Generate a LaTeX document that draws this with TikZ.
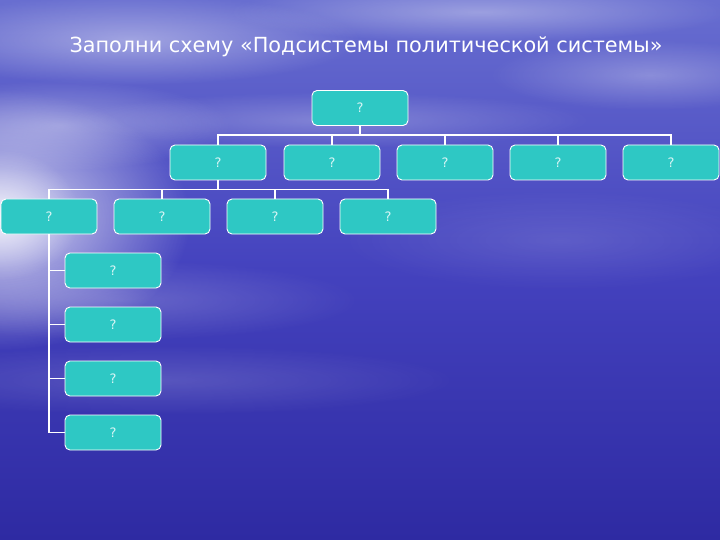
\documentclass[tikz,border=0pt]{standalone}
\usepackage{fontspec}
\setmainfont{DejaVu Sans}
\usetikzlibrary{fadings}
\definecolor{bgtop}{RGB}{104,110,208}
\definecolor{bgmid}{RGB}{68,66,190}
\definecolor{bgbot}{RGB}{46,42,162}
\definecolor{boxfill}{RGB}{46,200,196}
\definecolor{qcol}{RGB}{215,245,245}
\tikzfading[name=softfade, inner color=transparent!0, outer color=transparent!100]
\tikzset{
  qbox/.style={draw=white, line width=0.9pt, fill=boxfill, rounded corners=5pt,
    minimum width=96pt, minimum height=35pt, inner sep=0pt,
    text=qcol, font=\fontsize{13}{15}\selectfont},
  conn/.style={draw=white, line width=1.8pt},
  cloud/.style={white, path fading=softfade}
}
\begin{document}
\begin{tikzpicture}[x=1pt,y=-1pt]
\useasboundingbox (0,0) rectangle (720,540);
% background
\shade[top color=bgtop, bottom color=bgbot, middle color=bgmid] (0,0) rectangle (720,540);
\fill[cloud, opacity=0.40] (130,40) ellipse (230 and 45);
\fill[cloud, opacity=0.35] (480,12) ellipse (250 and 30);
\fill[cloud, opacity=0.28] (650,75) ellipse (160 and 35);
\fill[cloud, opacity=0.25] (330,120) ellipse (260 and 28);
\fill[cloud, opacity=0.35] (60,125) ellipse (170 and 45);
\fill[cloud, opacity=0.80] (0,220) ellipse (190 and 130);
\fill[cloud, opacity=0.60] (0,215) ellipse (80 and 65);
\fill[cloud, opacity=0.20] (120,300) ellipse (240 and 40);
\fill[cloud, opacity=0.15] (160,380) ellipse (300 and 35);
\fill[cloud, opacity=0.12] (560,240) ellipse (220 and 50);
% title
\node[text=white, font=\fontsize{20.8}{24}\selectfont, inner sep=0pt, anchor=base] (title) at (366,53) {Заполни схему «Подсистемы политической системы»};
% boxes
\node[qbox] (r) at (360,108) {?};
\node[qbox] (a1) at (218,162.5) {?};
\node[qbox] (a2) at (332,162.5) {?};
\node[qbox] (a3) at (445,162.5) {?};
\node[qbox] (a4) at (558,162.5) {?};
\node[qbox] (a5) at (671,162.5) {?};
\node[qbox] (c1) at (49,216.5) {?};
\node[qbox] (c2) at (162,216.5) {?};
\node[qbox] (c3) at (275,216.5) {?};
\node[qbox] (c4) at (388,216.5) {?};
\node[qbox] (d1) at (113,270.5) {?};
\node[qbox] (d2) at (113,324.5) {?};
\node[qbox] (d3) at (113,378.5) {?};
\node[qbox] (d4) at (113,432.5) {?};
% connectors
\foreach \c in {a1,a2,a3,a4,a5} \draw[conn] (r.south) -- ++(0,9) -| (\c.north);
\foreach \c in {c1,c2,c3,c4} \draw[conn] (a1.south) -- ++(0,9) -| (\c.north);
\foreach \c in {d1,d2,d3,d4} \draw[conn] (c1.south) |- (\c.west);
\end{tikzpicture}
\end{document}
